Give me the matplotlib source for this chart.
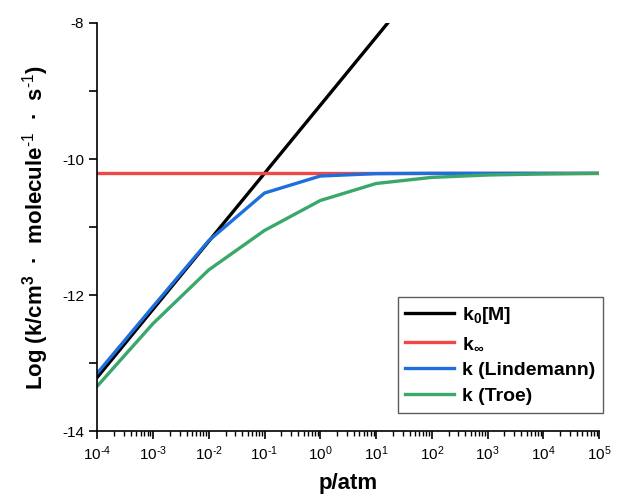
import matplotlib
matplotlib.use("Agg")
import matplotlib.pyplot as plt
from matplotlib.ticker import MultipleLocator, LogLocator, FuncFormatter
import numpy as np

plt.rcParams['font.family'] = ['Liberation Sans', 'DejaVu Sans']
plt.rcParams['mathtext.fontset'] = 'custom'
plt.rcParams['mathtext.rm'] = 'Liberation Sans'
plt.rcParams['mathtext.it'] = 'Liberation Sans:italic'
plt.rcParams['mathtext.bf'] = 'Liberation Sans:bold'
plt.rcParams['mathtext.default'] = 'regular'
plt.rcParams['axes.unicode_minus'] = False

# pressure (atm) at each decade
p_atm = [1e-4, 1e-3, 1e-2, 1e-1, 1e0, 1e1, 1e2, 1e3, 1e4, 1e5]
k0_M = [-13.21, -12.21, -11.21, -10.21, -9.21, -8.21, -7.21, -6.21, -5.21, -4.21]
k_inf = [-10.21, -10.21, -10.21, -10.21, -10.21, -10.21, -10.21, -10.21, -10.21, -10.21]
k_lindemann = [-13.15, -12.17, -11.20, -10.50, -10.25, -10.215, -10.21, -10.21, -10.21, -10.21]
k_troe = [-13.34, -12.42, -11.63, -11.05, -10.61, -10.36, -10.27, -10.235, -10.22, -10.21]

fig = plt.figure(figsize=(6.19, 4.99), dpi=100)
ax = fig.add_axes([0.157, 0.136, 0.811, 0.818])

lw = 2.4
ax.plot(p_atm, k0_M, color='black', lw=lw, label='k$_0$[M]')
ax.plot(p_atm, k_inf, color='#f04848', lw=lw, label=r'k$_\infty$')
ax.plot(p_atm, k_lindemann, color='#1e6fdc', lw=lw, label='k (Lindemann)')
ax.plot(p_atm, k_troe, color='#3aa86a', lw=lw, label='k (Troe)')

ax.set_xscale('log')
ax.set_xlim(1e-4, 1e5)
ax.set_ylim(-14, -8)
ax.xaxis.set_major_locator(LogLocator(base=10, numticks=20))
ax.xaxis.set_minor_locator(LogLocator(base=10, subs=range(2, 10), numticks=100))


def dec_fmt(v, pos):
    e = int(round(np.log10(v)))
    return r'10$^{\text{%d}}$' % e


ax.xaxis.set_major_formatter(FuncFormatter(dec_fmt))
ax.yaxis.set_major_locator(MultipleLocator(2))
ax.yaxis.set_minor_locator(MultipleLocator(1))

for s in ['top', 'right']:
    ax.spines[s].set_visible(False)
for s in ['left', 'bottom']:
    ax.spines[s].set_linewidth(1.2)
ax.tick_params(which='major', direction='out', length=6, width=1.2, labelsize=11)
ax.tick_params(which='minor', direction='out', length=3.5, width=1.0)
ax.tick_params(axis='y', which='minor', length=6, width=1.2)

ax.set_xlabel('p/atm', fontsize=16, fontweight='bold', labelpad=7)
ax.set_ylabel(r'Log (k/cm$^3$  ·  molecule$^{\text{-1}}$  ·  s$^{\text{-1}}$)', fontsize=16,
              fontweight='bold', labelpad=8)

leg = ax.legend(loc='lower right', bbox_to_anchor=(1.015, 0.035), frameon=True,
                fancybox=False, edgecolor='#333333', prop={'weight': 'bold', 'size': 14},
                handlelength=2.5, handletextpad=0.4, labelspacing=0.45,
                borderpad=0.4, borderaxespad=0.2)
leg.get_frame().set_linewidth(1.0)

fig.savefig('out.png', dpi=100)
